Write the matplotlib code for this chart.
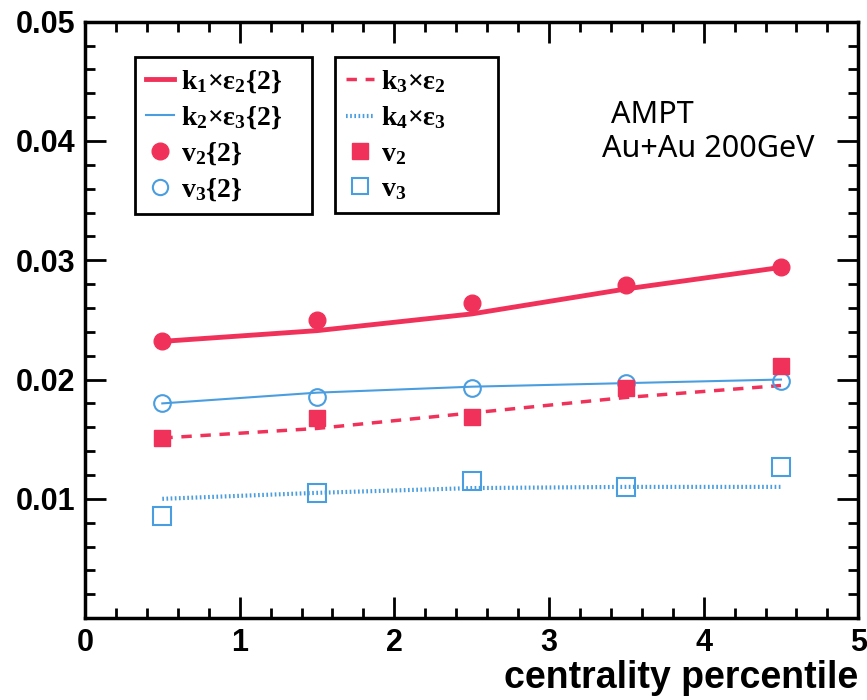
import numpy as np
import matplotlib.pyplot as plt
from matplotlib.lines import Line2D
from matplotlib.ticker import MultipleLocator

plt.rcParams['mathtext.fontset'] = 'custom'
plt.rcParams['mathtext.rm'] = 'Liberation Serif:bold'
plt.rcParams['mathtext.bf'] = 'Liberation Serif:bold'
plt.rcParams['mathtext.it'] = 'Liberation Serif:bold'

# centrality bins
cent = [0.5, 1.5, 2.5, 3.5, 4.5]

# model curves
k1_eps2 = [0.0232, 0.0241, 0.0255, 0.0276, 0.0294]
k2_eps3 = [0.0180, 0.0189, 0.0194, 0.0197, 0.0200]
k3_eps2 = [0.0151, 0.0159, 0.0172, 0.0185, 0.0195]
k4_eps3 = [0.0100, 0.0105, 0.0109, 0.0110, 0.0110]

# AMPT points
v2_2 = [0.0232, 0.0250, 0.0264, 0.0279, 0.0294]
v3_2 = [0.0180, 0.0185, 0.0193, 0.0197, 0.0199]
v2 = [0.0151, 0.0168, 0.0169, 0.0193, 0.0211]
v3 = [0.0086, 0.0105, 0.0115, 0.0110, 0.0127]

red = '#f0325a'
blue = '#4a9ee0'

fig = plt.figure(figsize=(8.67, 7), dpi=100)
ax = fig.add_axes([0.098, 0.117, 0.892, 0.852])

ax.plot(cent, k1_eps2, color=red, lw=3.5, zorder=3)
ax.plot(cent, k2_eps3, color=blue, lw=1.5, zorder=3)
ax.plot(cent, k3_eps2, color=red, lw=2.5, ls=(0, (3, 2.5)), zorder=3)
ax.plot(cent, k4_eps3, color=blue, lw=3, ls=(0, (0.4, 0.6)), zorder=3)

ax.plot(cent, v2_2, 'o', color=red, ms=12, zorder=4)
ax.plot(cent, v3_2, 'o', mfc='none', mec=blue, mew=1.5, ms=12, zorder=4)
ax.plot(cent, v2, 's', color=red, ms=12, zorder=4)
ax.plot(cent, v3, 's', mfc='none', mec=blue, mew=1.5, ms=13, zorder=4)

ax.set_xlim(0, 5)
ax.set_ylim(0, 0.05)
ax.xaxis.set_major_locator(MultipleLocator(1))
ax.xaxis.set_minor_locator(MultipleLocator(0.2))
ax.yaxis.set_major_locator(MultipleLocator(0.01))
ax.yaxis.set_minor_locator(MultipleLocator(0.002))
ax.tick_params(which='both', direction='in', top=True, right=True, width=2)
ax.tick_params(which='major', length=15, labelsize=22, pad=7)
ax.tick_params(which='minor', length=7)
ax.set_yticks([0.01, 0.02, 0.03, 0.04, 0.05])
ax.set_yticklabels(['0.01', '0.02', '0.03', '0.04', '0.05'])
ax.set_xticks([0, 1, 2, 3, 4, 5])
for lab in ax.get_xticklabels() + ax.get_yticklabels():
    lab.set_fontweight('bold')
    lab.set_family('Liberation Sans')
for s in ax.spines.values():
    s.set_linewidth(2.5)

fig.text(0.99, 0.005, 'centrality percentile', ha='right', va='bottom',
         fontsize=27, fontweight='bold', family='Liberation Sans')

h1 = [Line2D([], [], color=red, lw=3.5),
      Line2D([], [], color=blue, lw=1.5),
      Line2D([], [], ls='none', marker='o', color=red, ms=12),
      Line2D([], [], ls='none', marker='o', mfc='none', mec=blue, mew=1.5, ms=11)]
l1 = ['k$_1$×ε$_2${2}', 'k$_2$×ε$_3${2}', 'v$_2${2}', 'v$_3${2}']
h2 = [Line2D([], [], color=red, lw=2.5, ls=(0, (3, 2.5))),
      Line2D([], [], color=blue, lw=3, ls=(0, (0.4, 0.6))),
      Line2D([], [], ls='none', marker='s', color=red, ms=12),
      Line2D([], [], ls='none', marker='s', mfc='none', mec=blue, mew=1.5, ms=12)]
l2 = ['k$_3$×ε$_2$', 'k$_4$×ε$_3$', 'v$_2$', 'v$_3$']

kw = dict(loc='upper left', mode='expand', handlelength=1.0, handletextpad=0.25,
          labelspacing=0.35, borderaxespad=0, fancybox=False, framealpha=1,
          edgecolor='black', borderpad=0.4,
          prop=dict(family='Liberation Serif', weight='bold', size=20))
leg1 = ax.legend(h1, l1, bbox_to_anchor=(0.065, 0.678, 0.229, 0.263), **kw)
leg1.get_frame().set_linewidth(2)
ax.add_artist(leg1)
leg2 = ax.legend(h2, l2, bbox_to_anchor=(0.323, 0.678, 0.211, 0.263), **kw)
leg2.get_frame().set_linewidth(2)

ax.text(0.680, 0.8305, 'AMPT', transform=ax.transAxes, va='baseline',
        fontsize=22, family='Noto Sans')
ax.text(0.668, 0.7735, 'Au+Au 200GeV', transform=ax.transAxes, va='baseline',
        fontsize=22, family='Noto Sans')

fig.savefig('out.png', dpi=100)
